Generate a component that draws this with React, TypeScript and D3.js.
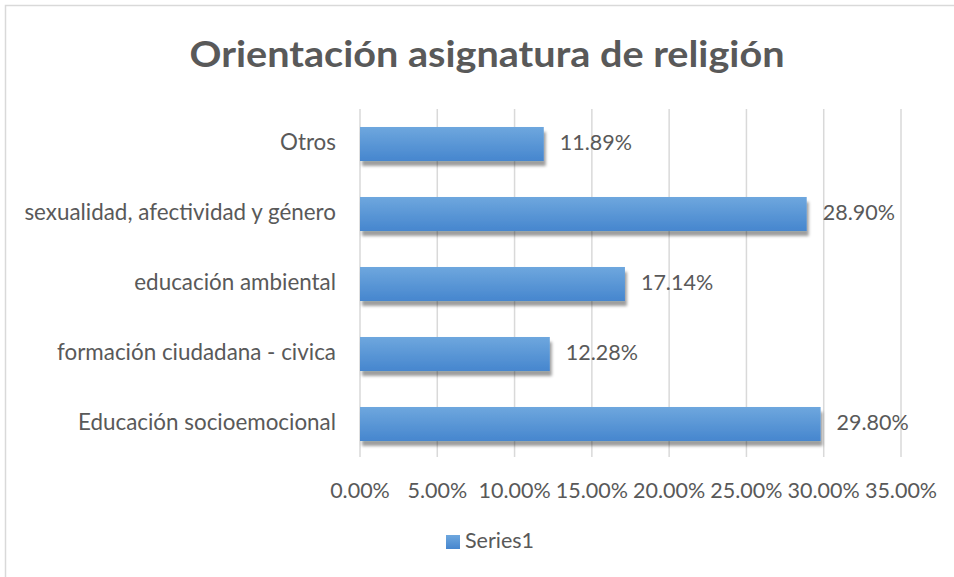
import React from "react";
import * as d3 from "d3";

const categories = [
  "Otros",
  "sexualidad, afectividad y género",
  "educación ambiental",
  "formación ciudadana - civica",
  "Educación socioemocional",
];
const values = [0.1189, 0.289, 0.1714, 0.1228, 0.298];
const valueLabels = ["11.89%", "28.90%", "17.14%", "12.28%", "29.80%"];
const tickValues = [0, 0.05, 0.1, 0.15, 0.2, 0.25, 0.3, 0.35];
const title = "Orientación asignatura de religión";
const seriesName = "Series1";

const W = 954;
const H = 577;
const FONT = "Lato, 'Open Sans', 'Noto Sans', sans-serif";
const TXT = "#595959";
const FS = 21.5;
const FS_CAT = 22.4;

export default function App() {
  const x = d3.scaleLinear().domain([0, 0.35]).range([360, 901]);
  const y = d3
    .scaleBand<string>()
    .domain(categories)
    .range([109, 459])
    .paddingInner(0.514)
    .paddingOuter(0.257);
  const fmt = d3.format(".2%");

  return (
    <svg
      width={W}
      height={H}
      style={{ position: "absolute", left: 0, top: 0, background: "#fff" }}
      fontFamily={FONT}
    >
      <defs>
        <linearGradient id="barGrad" x1="0" y1="0" x2="0" y2="1">
          <stop offset="0" stopColor="#6EA7DE" />
          <stop offset="1" stopColor="#4686CE" />
        </linearGradient>
        <filter id="shadow" x="-10%" y="-40%" width="130%" height="200%">
          <feDropShadow dx="2" dy="5" stdDeviation="1.8" floodColor="#000" floodOpacity="0.38" />
        </filter>
      </defs>
      <rect x={0} y={0} width={W} height={H} fill="#fff" />
      <rect x={5.5} y={5.5} width={970} height={590} fill="#fff" stroke="#D9D9D9" strokeWidth={1.5} />

      <text
        x={487}
        y={67}
        textAnchor="middle"
        fontSize={37}
        fontWeight="bold"
        fill={TXT}
        textLength={595}
        lengthAdjust="spacingAndGlyphs"
      >
        {title}
      </text>

      {tickValues.map((t) => (
        <line
          key={"g" + t}
          x1={x(t)}
          x2={x(t)}
          y1={109}
          y2={457}
          stroke="#D9D9D9"
          strokeWidth={1.5}
        />
      ))}

      {categories.map((c, i) => (
        <rect
          key={"b" + c}
          x={x(0)}
          y={y(c)}
          width={x(values[i]) - x(0)}
          height={y.bandwidth()}
          fill="url(#barGrad)"
          filter="url(#shadow)"
        />
      ))}

      {categories.map((c, i) => (
        <text
          key={"v" + c}
          x={x(values[i]) + 16}
          y={(y(c) as number) + y.bandwidth() / 2 + 1}
          dominantBaseline="middle"
          fontSize={FS}
          fill={TXT}
        >
          {valueLabels[i]}
        </text>
      ))}

      {categories.map((c) => (
        <text
          key={"c" + c}
          x={336}
          y={(y(c) as number) + y.bandwidth() / 2}
          dominantBaseline="middle"
          textAnchor="end"
          fontSize={FS_CAT}
          fill={TXT}
        >
          {c}
        </text>
      ))}

      {tickValues.map((t) => (
        <text
          key={"t" + t}
          x={x(t)}
          y={493}
          dominantBaseline="middle"
          textAnchor="middle"
          fontSize={FS}
          fill={TXT}
        >
          {fmt(t)}
        </text>
      ))}

      <rect x={446} y={535} width={14} height={14} fill="url(#barGrad)" />
      <text x={465} y={543} dominantBaseline="middle" fontSize={FS} fill={TXT}>
        {seriesName}
      </text>
    </svg>
  );
}
